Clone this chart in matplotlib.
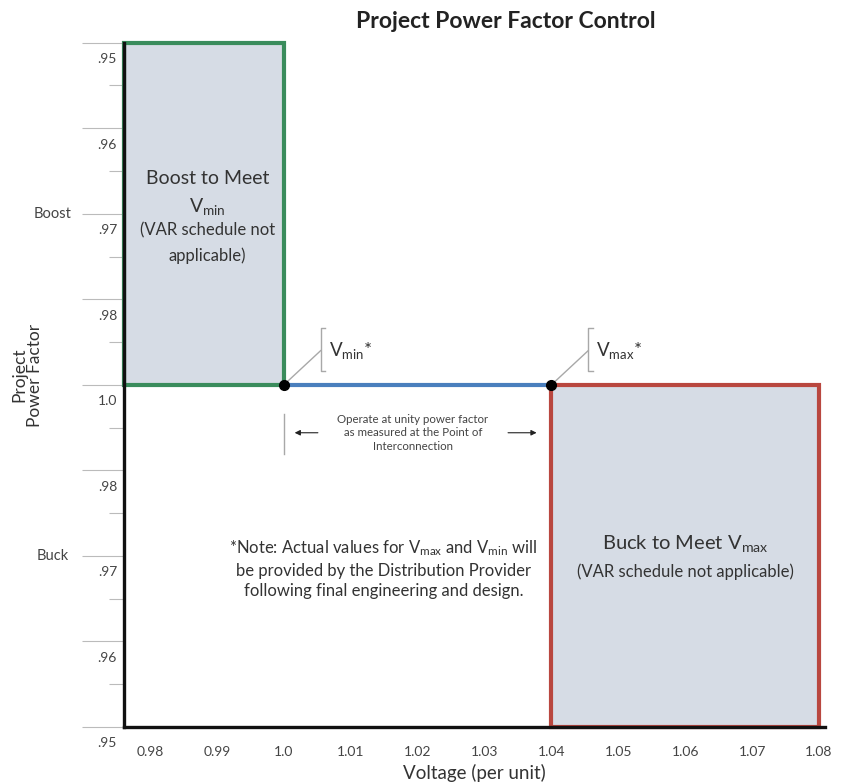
import matplotlib
matplotlib.use("Agg")
import matplotlib.pyplot as plt
from matplotlib.patches import Rectangle
from matplotlib.transforms import ScaledTranslation, blended_transform_factory

plt.rcParams['font.family'] = ['Lato', 'DejaVu Sans']
plt.rcParams['mathtext.fontset'] = 'custom'
plt.rcParams['mathtext.rm'] = 'Lato'
plt.rcParams['mathtext.it'] = 'Lato:italic'

# ---- data ----
voltage_ticks = [0.98, 0.99, 1.0, 1.01, 1.02, 1.03, 1.04, 1.05, 1.06, 1.07, 1.08]
voltage_labels = ['0.98', '0.99', '1.0', '1.01', '1.02', '1.03', '1.04', '1.05', '1.06', '1.07', '1.08']
pf_positions = [4, 3, 2, 1, 0, -1, -2, -3, -4]
pf_labels = ['.95', '.96', '.97', '.98', '1.0', '.98', '.97', '.96', '.95']
pf_minor = [3.5, 2.5, 1.5, 0.5, -0.5, -1.5, -2.5, -3.5]
side_labels = ['Boost', 'Buck']
side_positions = [2, -2]
v_min = 1.0
v_max = 1.04
v_left = 0.9761
v_right = 1.0809
boost_top = 4
buck_bottom = -4
buck_right = 1.08

fill_c = '#d6dce5'
green = '#3a8c5c'
red = '#b9473f'
blue = '#4a7fbd'
gray = '#a8a8a8'
txt = '#333333'

fig = plt.figure(figsize=(8.41, 7.84), dpi=100)
W, H = 841, 784
ax = fig.add_axes([124 / W, (H - 727) / H, (825 - 124) / W, (727 - 42.7) / H])
ax.set_xlim(v_left, v_right)
ax.set_ylim(buck_bottom, boost_top)

# regions
ax.add_patch(Rectangle((v_left, 0), v_min - v_left, boost_top, facecolor=fill_c,
                       edgecolor=green, linewidth=3, clip_on=False, zorder=2))
ax.add_patch(Rectangle((v_max, buck_bottom), buck_right - v_max, -buck_bottom, facecolor=fill_c,
                       edgecolor=red, linewidth=3, clip_on=False, zorder=2))
ax.plot([v_min, v_max], [0, 0], color=blue, linewidth=3, zorder=3, solid_capstyle='butt')
ax.plot([v_min, v_max], [0, 0], 'o', color='black', markersize=7, zorder=5)

# spines
for s in ['top', 'right']:
    ax.spines[s].set_visible(False)
for s in ['left', 'bottom']:
    ax.spines[s].set_linewidth(2.4)
    ax.spines[s].set_color('#111111')
    ax.spines[s].set_zorder(4)

# ticks
ax.set_xticks(voltage_ticks)
ax.set_xticklabels(voltage_labels, fontsize=10, color='#444444')
ax.tick_params(axis='x', length=0, pad=14)
ax.set_yticks(pf_positions)
ax.set_yticklabels(pf_labels, fontsize=10, color='#444444')
ax.set_yticks(pf_minor, minor=True)
ax.tick_params(axis='y', which='major', length=30, width=0.8, color='#bbbbbb', pad=-25)
ax.tick_params(axis='y', which='minor', length=11, width=0.8, color='#bbbbbb')
for lab in ax.get_yticklabels():
    lab.set_transform(lab.get_transform() + ScaledTranslation(0, -11 / 72, fig.dpi_scale_trans))

# axis labels / title
fig.text(474 / W, 1 - 773 / H, 'Voltage (per unit)', ha='center', va='center', fontsize=13.5, color=txt)
fig.text(27 / W, 1 - 375 / H, 'Project\nPower Factor', ha='center', va='center', rotation=90,
         fontsize=12.5, color=txt, linespacing=0.95)
fig.text(506 / W, 1 - 21 / H, 'Project Power Factor Control', ha='center', va='center',
         fontsize=16.5, fontweight='bold', color='#222222')
ytr = blended_transform_factory(fig.transFigure, ax.transData)
for lab, pos in zip(side_labels, side_positions):
    fig.text(53 / W, pos, lab, transform=ytr, ha='center', va='center', fontsize=10.5, color='#444444')

# region labels
bx = (v_left + v_min) / 2 + 0.0005
ax.text(bx, 2.41, 'Boost to Meet', ha='center', va='center', fontsize=14, color=txt, zorder=6)
ax.text(bx, 2.08, 'V$_{\\mathrm{min}}$', ha='center', va='center', fontsize=14, color=txt, zorder=6)
ax.text(bx, 1.81, '(VAR schedule not', ha='center', va='center', fontsize=12, color=txt, zorder=6)
ax.text(bx, 1.51, 'applicable)', ha='center', va='center', fontsize=12, color=txt, zorder=6)
rx = (v_max + buck_right) / 2
ax.text(rx, -1.86, 'Buck to Meet V$_{\\mathrm{max}}$', ha='center', va='center', fontsize=14.5,
        color=txt, zorder=6)
ax.text(rx, -2.18, '(VAR schedule not applicable)', ha='center', va='center', fontsize=12,
        color=txt, zorder=6)

# note
ax.text(1.0149, -2.15, '*Note: Actual values for V$_{\\mathrm{max}}$ and V$_{\\mathrm{min}}$ will\n'
        'be provided by the Distribution Provider\nfollowing final engineering and design.',
        ha='center', va='center', fontsize=12, color=txt, linespacing=1.35)

# callouts
for v, name in [(v_min, 'min'), (v_max, 'max')]:
    bxr = v + 0.0055
    ax.plot([v, bxr], [0, 0.40], color=gray, linewidth=1, zorder=4)
    ax.plot([bxr + 0.0007, bxr, bxr, bxr + 0.0007], [0.67, 0.67, 0.16, 0.16], color=gray,
            linewidth=1, zorder=4)
    ax.text(bxr + 0.0012, 0.40, 'V$_{\\mathrm{%s}}$*' % name, ha='left', va='center', fontsize=13.5,
            color=txt)

# unity PF annotation
ax.plot([v_min, v_min], [-0.34, -0.81], color=gray, linewidth=1)
ax.annotate('', xy=(1.0012, -0.56), xytext=(1.0055, -0.56),
            arrowprops=dict(arrowstyle='-|>', color='#222222', lw=0.8, mutation_scale=8))
ax.annotate('', xy=(1.0382, -0.56), xytext=(1.0331, -0.56),
            arrowprops=dict(arrowstyle='-|>', color='#222222', lw=0.8, mutation_scale=8))
ax.text(1.0193, -0.56, 'Operate at unity power factor\nas measured at the Point of\nInterconnection',
        ha='center', va='center', fontsize=8.3, color='#444444', linespacing=1.25)

fig.savefig('out.png', dpi=100)
